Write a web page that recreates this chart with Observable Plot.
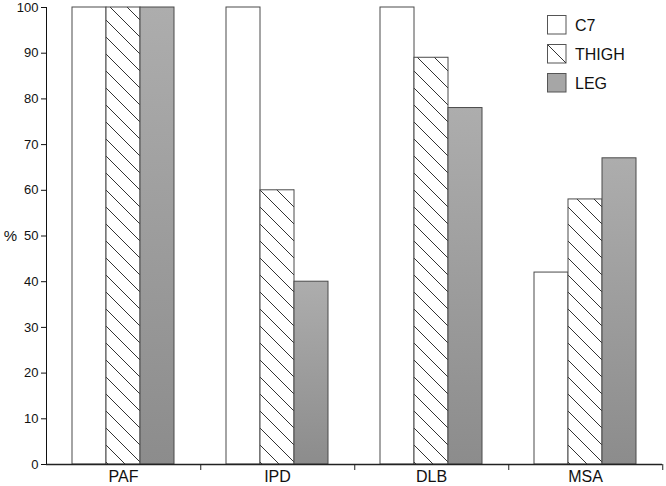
<!DOCTYPE html>
<html>
<head>
<meta charset="utf-8">
<script src="https://cdn.jsdelivr.net/npm/d3@7"></script>
<script src="https://cdn.jsdelivr.net/npm/@observablehq/plot@0.6"></script>
<style>
  html, body { margin: 0; padding: 0; background: #fff; }
  #wrap { position: relative; width: 666px; height: 486px; font-family: "Liberation Sans", Arial, sans-serif; }
  #legend { position: absolute; left: 540px; top: 8px; }
</style>
</head>
<body>
<svg width="0" height="0" style="position:absolute">
  <defs>
    <pattern id="hatch" patternUnits="userSpaceOnUse" width="17" height="17">
      <rect width="17" height="17" fill="#fff"></rect>
      <path d="M0,0L17,17M-2,15L2,19M15,-2L19,2" stroke="#333" stroke-width="1"></path>
    </pattern>
    <linearGradient id="legGrad" x1="0" y1="0" x2="0" y2="1">
      <stop offset="0" stop-color="#adadad"></stop>
      <stop offset="1" stop-color="#8c8c8c"></stop>
    </linearGradient>
  </defs>
</svg>
<div id="wrap"></div>
<script>
const categories = ["PAF", "IPD", "DLB", "MSA"];
const series = ["C7", "THIGH", "LEG"];
const c7 = [100, 100, 100, 42];
const thigh = [100, 60, 89, 58];
const leg = [100, 40, 78, 67];
const yTicks = [0, 10, 20, 30, 40, 50, 60, 70, 80, 90, 100];
const seriesFills = ["#ffffff", "url(#hatch)", "url(#legGrad)"];

const values = {C7: c7, THIGH: thigh, LEG: leg};
const data = categories.flatMap((g, i) => series.map(s => ({group: g, series: s, value: values[s][i]})));

const W = 666, H = 486, ML = 45, MR = 3, MT = 7, MB = 22;
const step = (W - ML - MR) / categories.length;

const chart = Plot.plot({
  width: W, height: H,
  marginLeft: ML, marginRight: MR, marginTop: MT, marginBottom: MB,
  style: {fontFamily: "'Liberation Sans', Arial, sans-serif", background: "white", color: "#111", fontSize: "13px"},
  fx: {domain: categories, paddingInner: 0, paddingOuter: 0, label: null, axis: null},
  x: {domain: series, paddingInner: 0, paddingOuter: 0.73, axis: null},
  y: {domain: [0, 100], ticks: yTicks, tickSize: 5, tickPadding: 3, label: null, line: true},
  color: {domain: series, range: seriesFills},
  marks: [
    Plot.barY(data, {fx: "group", x: "series", y: "value", fill: "series", stroke: "#4a4a4a", strokeWidth: 1}),
    Plot.ruleY([0], {stroke: "#222", strokeWidth: 1.3}),
    Plot.axisFx({anchor: "bottom", tickSize: 6, tickFormat: () => "", dx: step / 2, label: null, stroke: "#222"}),
    Plot.axisFx({anchor: "bottom", tickSize: 0, tickPadding: 6, fontSize: 16, label: null}),
    Plot.text([{group: "PAF", t: "%"}], {fx: "group", text: "t", frameAnchor: "left", textAnchor: "middle", dx: -36, fontSize: 15, fill: "#111"})
  ]
});
document.getElementById("wrap").appendChild(chart);

// legend
const lg = d3.select("#wrap").append("svg").attr("id", "legend").attr("width", 120).attr("height", 95);
series.forEach((s, i) => {
  const y = 7 + i * 29;
  lg.append("rect").attr("x", 7.5).attr("y", y + 0.5).attr("width", 18.5).attr("height", 18.5)
    .attr("fill", i === 1 ? "#fff" : (i === 2 ? "#a6a6a6" : seriesFills[i])).attr("stroke", "#555");
  if (i === 1) lg.append("line").attr("x1", 8).attr("y1", y + 1).attr("x2", 26).attr("y2", y + 19).attr("stroke", "#333");
  lg.append("text").attr("x", 35).attr("y", y + 10).attr("dy", "0.36em")
    .attr("font-size", 16).attr("fill", "#111").attr("font-family", "'Liberation Sans', Arial, sans-serif").text(s);
});
</script>
</body>
</html>
